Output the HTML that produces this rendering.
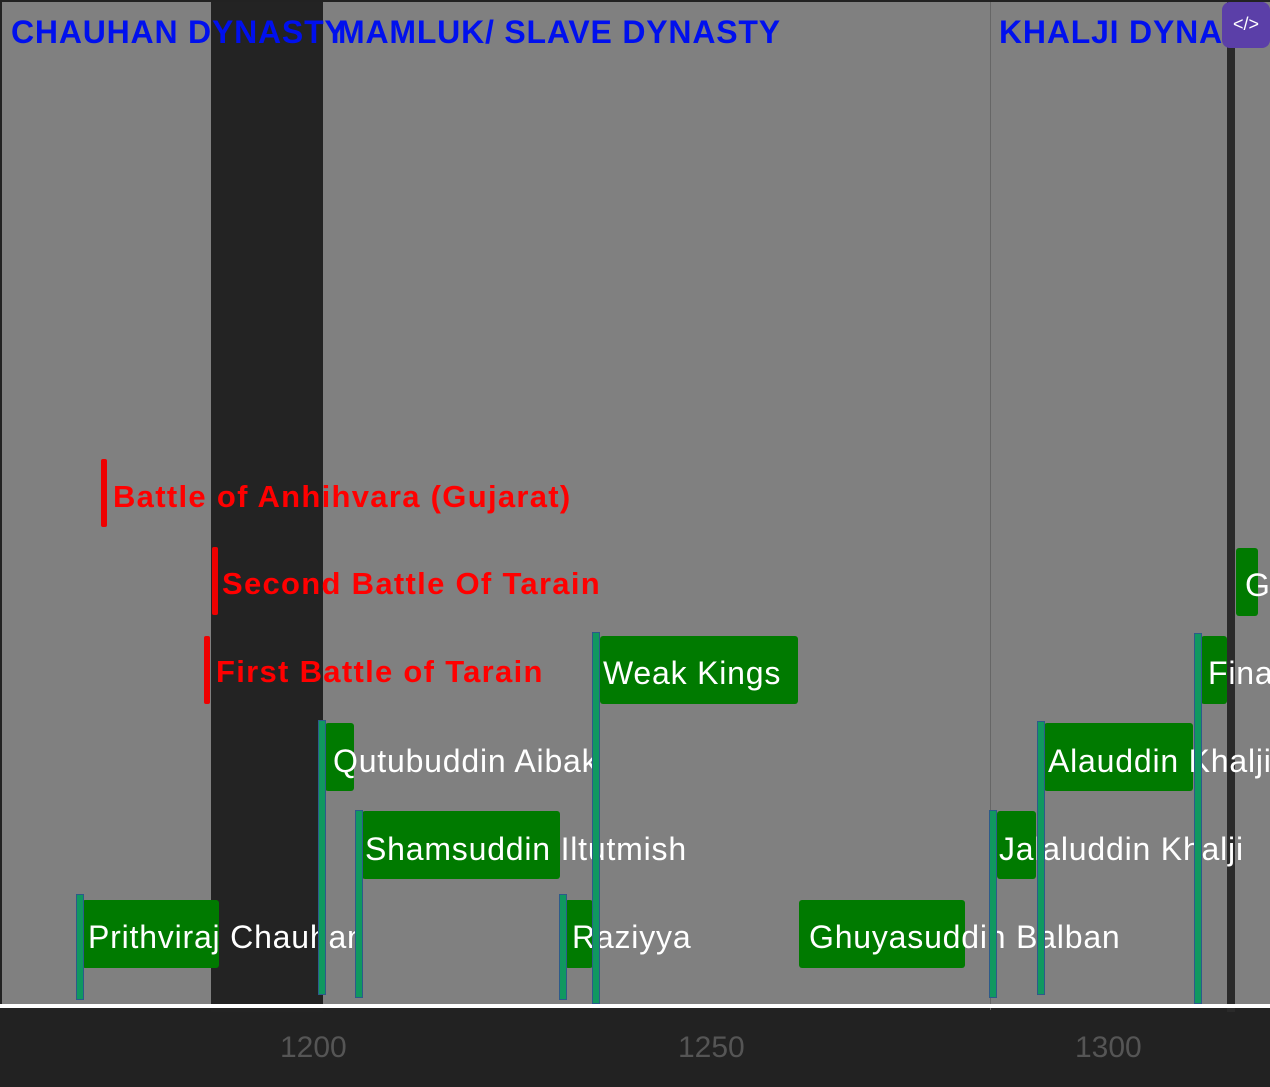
<!DOCTYPE html>
<html><head><meta charset="utf-8"><style>
body{margin:0;width:1270px;height:1087px;background:#222;position:relative;overflow:hidden;font-family:"Liberation Sans",sans-serif}
div{position:absolute;box-sizing:border-box}
.bar{background:#007a00;border-radius:3px;height:68px}
.mk{background:#109860;border:1.5px solid #2d5a8a;width:8px}
.t{color:#fff;font-size:32px;letter-spacing:0.8px;white-space:nowrap;line-height:68px;height:68px}
.r{background:#e00;width:6px;height:68px;border-radius:2px}
.rt{color:#f00;font-weight:bold;font-size:31px;letter-spacing:1.3px;white-space:nowrap;line-height:68px}
.h{color:#0010ee;font-weight:bold;font-size:32px;top:14px;white-space:nowrap;letter-spacing:0.8px}
.ax{color:#555;font-size:30px;top:1031px}
</style></head><body>
<div style="left:2px;top:2px;width:1268px;height:1006px;background:#808080"></div>
<div style="left:211px;top:2px;width:112px;height:1010px;background:#232323"></div>
<div style="left:990px;top:2px;width:1px;height:1008px;background:#666"></div>
<div style="left:1227px;top:2px;width:8px;height:1010px;background:#2a2a2a"></div>
<div style="left:0;top:1004px;width:1270px;height:4px;background:#fff"></div>

<div class="h" style="left:11px">CHAUHAN DYNASTY</div>
<div class="h" style="left:338px">MAMLUK/ SLAVE DYNASTY</div>
<div class="h" style="left:999px">KHALJI DYNA</div>
<div style="left:1222px;top:2px;width:48px;height:46px;background:#5b3fa8;border-radius:8px;color:#fff;font-size:18px;text-align:center;line-height:44px">&lt;/&gt;</div>

<div class="r" style="left:101px;top:459px"></div><div class="rt" style="left:113px;top:463px">Battle of Anhihvara (Gujarat)</div>
<div class="r" style="left:212px;top:547px"></div><div class="rt" style="left:222px;top:550px">Second Battle Of Tarain</div>
<div class="r" style="left:204px;top:636px"></div><div class="rt" style="left:216px;top:638px">First Battle of Tarain</div>

<div class="bar" style="left:82px;top:900px;width:137px"></div>
<div class="bar" style="left:325px;top:723px;width:29px"></div>
<div class="bar" style="left:362px;top:811px;width:198px"></div>
<div class="bar" style="left:565px;top:900px;width:28px"></div>
<div class="bar" style="left:600px;top:636px;width:198px"></div>
<div class="bar" style="left:799px;top:900px;width:166px"></div>
<div class="bar" style="left:997px;top:811px;width:39px"></div>
<div class="bar" style="left:1044px;top:723px;width:149px"></div>
<div class="bar" style="left:1201px;top:636px;width:26px"></div>
<div class="bar" style="left:1236px;top:548px;width:22px"></div>

<div class="t" style="left:88px;top:903px">Prithviraj Chauhan</div>
<div class="t" style="left:333px;top:727px">Qutubuddin Aibak</div>
<div class="t" style="left:365px;top:815px">Shamsuddin Iltutmish</div>
<div class="t" style="left:572px;top:903px">Raziyya</div>
<div class="t" style="left:603px;top:639px">Weak Kings</div>
<div class="t" style="left:809px;top:903px">Ghuyasuddin Balban</div>
<div class="t" style="left:999px;top:815px">Jalaluddin Khalji</div>
<div class="t" style="left:1048px;top:727px">Alauddin Khalji</div>
<div class="t" style="left:1208px;top:639px">Final</div>
<div class="t" style="left:1245px;top:551px">G</div>

<div class="mk" style="left:76px;top:894px;height:106px"></div>
<div class="mk" style="left:318px;top:720px;height:275px"></div>
<div class="mk" style="left:355px;top:810px;height:188px"></div>
<div class="mk" style="left:559px;top:894px;height:106px"></div>
<div class="mk" style="left:592px;top:632px;height:372px"></div>
<div class="mk" style="left:989px;top:810px;height:188px"></div>
<div class="mk" style="left:1037px;top:721px;height:274px"></div>
<div class="mk" style="left:1194px;top:633px;height:371px"></div>

<div class="ax" style="left:280px">1200</div>
<div class="ax" style="left:678px">1250</div>
<div class="ax" style="left:1075px">1300</div>
</body></html>
